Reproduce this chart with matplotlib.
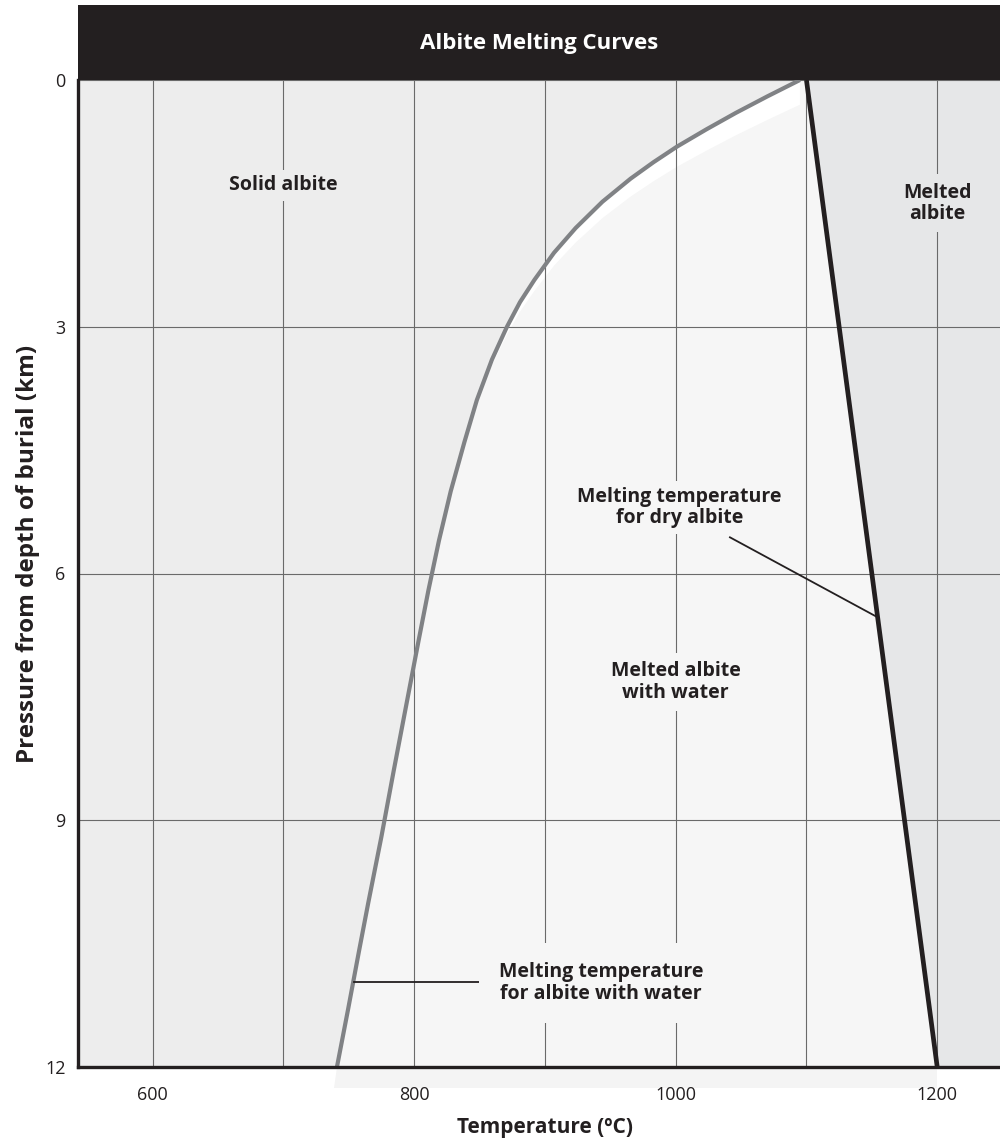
import matplotlib
matplotlib.use("Agg")
import matplotlib.pyplot as plt
import numpy as np
from matplotlib.patches import Rectangle

plt.rcParams["font.family"] = ["Open Sans", "DejaVu Sans"]

# --- data ---
# wet (water-saturated) albite melting curve: temperature (C) vs depth (km)
wet_temp = [1095, 1070, 1046, 1023.5, 1001, 983, 965.5, 944, 923.5, 907,
            892, 881, 871, 859.5, 848, 838.5, 828, 819, 811, 803.5,
            794, 784.5, 775, 765, 758, 749.5, 741]
wet_depth = [0.0, 0.2, 0.4, 0.6, 0.81, 1.0, 1.2, 1.48, 1.8, 2.1,
             2.43, 2.7, 3.0, 3.4, 3.89, 4.4, 5.0, 5.6, 6.2, 6.81,
             7.6, 8.39, 9.2, 10.0, 10.58, 11.3, 12.0]

# dry albite melting curve
dry_temp = [1100, 1200]
dry_depth = [0, 12]

x_grid = [600, 700, 800, 900, 1000, 1100, 1200]
x_labels = ["600", "", "800", "", "1000", "", "1200"]
y_ticks = [0, 3, 6, 9, 12]
y_labels = ["0", "3", "6", "9", "12"]

DARK = "#231f20"
CURVE_GRAY = "#808285"
SOLID_FILL = "#ededed"
WET_FILL = "#f6f6f6"
MELT_FILL = "#e6e7e8"
GRID = "#6a6a6a"

W, H = 1000, 1144
fig = plt.figure(figsize=(W / 100, H / 100), dpi=100)
ax = fig.add_axes([78 / W, 1 - 1067 / H, 922 / W, 987 / H])
ax.set_xlim(543, 1248)
ax.set_ylim(12, 0)

wt = np.array(wet_temp, dtype=float)
wd = np.array(wet_depth, dtype=float)
dt = np.array(dry_temp, dtype=float)
dd = np.array(dry_depth, dtype=float)

# region fills
ax.set_facecolor(SOLID_FILL)
ax.fill_betweenx(dd, dt, 1300, color=MELT_FILL, lw=0, zorder=0.5)
poly_x = np.concatenate([wt, dt[::-1]])
poly_y = np.concatenate([wd, dd[::-1]])
ax.fill(poly_x, poly_y, color=WET_FILL, lw=0, zorder=0.6)
# white highlight along the inside of the wet curve
shift = 0.3 * np.clip(1 - wd / 4.4, 0, 1)
hx = np.concatenate([wt, wt[::-1]])
hy = np.concatenate([wd, (wd + shift)[::-1]])
ax.fill(hx, hy, color="white", lw=0, zorder=0.7)
# light band spilling under the bottom axis
ax.fill([wt[-1], dt[-1], dt[-1], wt[-1] - 2], [12, 12, 12.26, 12.26],
        color="#f4f4f4", lw=0, zorder=0.4, clip_on=False)

# grid
ax.set_xticks(x_grid)
ax.set_xticklabels(x_labels)
ax.set_yticks(y_ticks)
ax.set_yticklabels(y_labels)
ax.tick_params(length=0, labelsize=13, colors=DARK)
ax.tick_params(axis="x", pad=14)
ax.tick_params(axis="y", pad=9)
ax.grid(True, color=GRID, lw=0.8)
ax.set_axisbelow(False)

for side in ["top", "right"]:
    ax.spines[side].set_visible(False)
for side in ["left", "bottom"]:
    ax.spines[side].set_color(DARK)
    ax.spines[side].set_linewidth(2.4)
    ax.spines[side].set_zorder(5)

# curves
ax.plot(wt, wd, color=CURVE_GRAY, lw=3.0, zorder=3, solid_capstyle="butt",
        solid_joinstyle="round")
ax.plot(dt, dd, color=DARK, lw=3.4, zorder=3, solid_capstyle="butt")

# region labels (boxes hide the grid behind them)
lab = dict(ha="center", va="center", fontsize=14, fontweight="bold",
           color=DARK, linespacing=1.1, zorder=4)
ax.text(700, 1.28, "Solid albite",
        bbox=dict(fc=SOLID_FILL, ec="none", pad=4), **lab)
ax.text(1200, 1.5, "Melted\nalbite",
        bbox=dict(fc=MELT_FILL, ec="none", pad=6), **lab)
ax.text(1000, 7.32, "Melted albite\nwith water",
        bbox=dict(fc=WET_FILL, ec="none", pad=6), **lab)
ax.text(1003, 5.2, "Melting temperature\nfor dry albite",
        bbox=dict(fc=WET_FILL, ec="none", pad=4), **lab)
ax.text(943, 10.98, "Melting temperature\nfor albite with water",
        bbox=dict(fc=WET_FILL, ec="none", pad=14), **lab)

# leader lines
ax.plot([1041.5, 1153], [5.56, 6.52], color=DARK, lw=1.3, zorder=3.5)
ax.plot([754, 858.6], [10.97, 10.97], color=DARK, lw=1.3, zorder=3.5)

# title bar
fig.add_artist(Rectangle((78 / W, 1 - 80 / H), 922 / W, 75 / H,
                         transform=fig.transFigure, color=DARK, lw=0))
fig.text(539 / W, 1 - 43 / H, "Albite Melting Curves", ha="center",
         va="center", color="white", fontsize=16, fontweight="bold")

fig.text(545 / W, 1 - 1128 / H, "Temperature (ºC)", ha="center",
         va="center", color=DARK, fontsize=15, fontweight="bold")
fig.text(28 / W, 1 - 554 / H, "Pressure from depth of burial (km)",
         ha="center", va="center", rotation=90, color=DARK, fontsize=17.5,
         fontweight="bold")

fig.savefig("out.png", dpi=100)
